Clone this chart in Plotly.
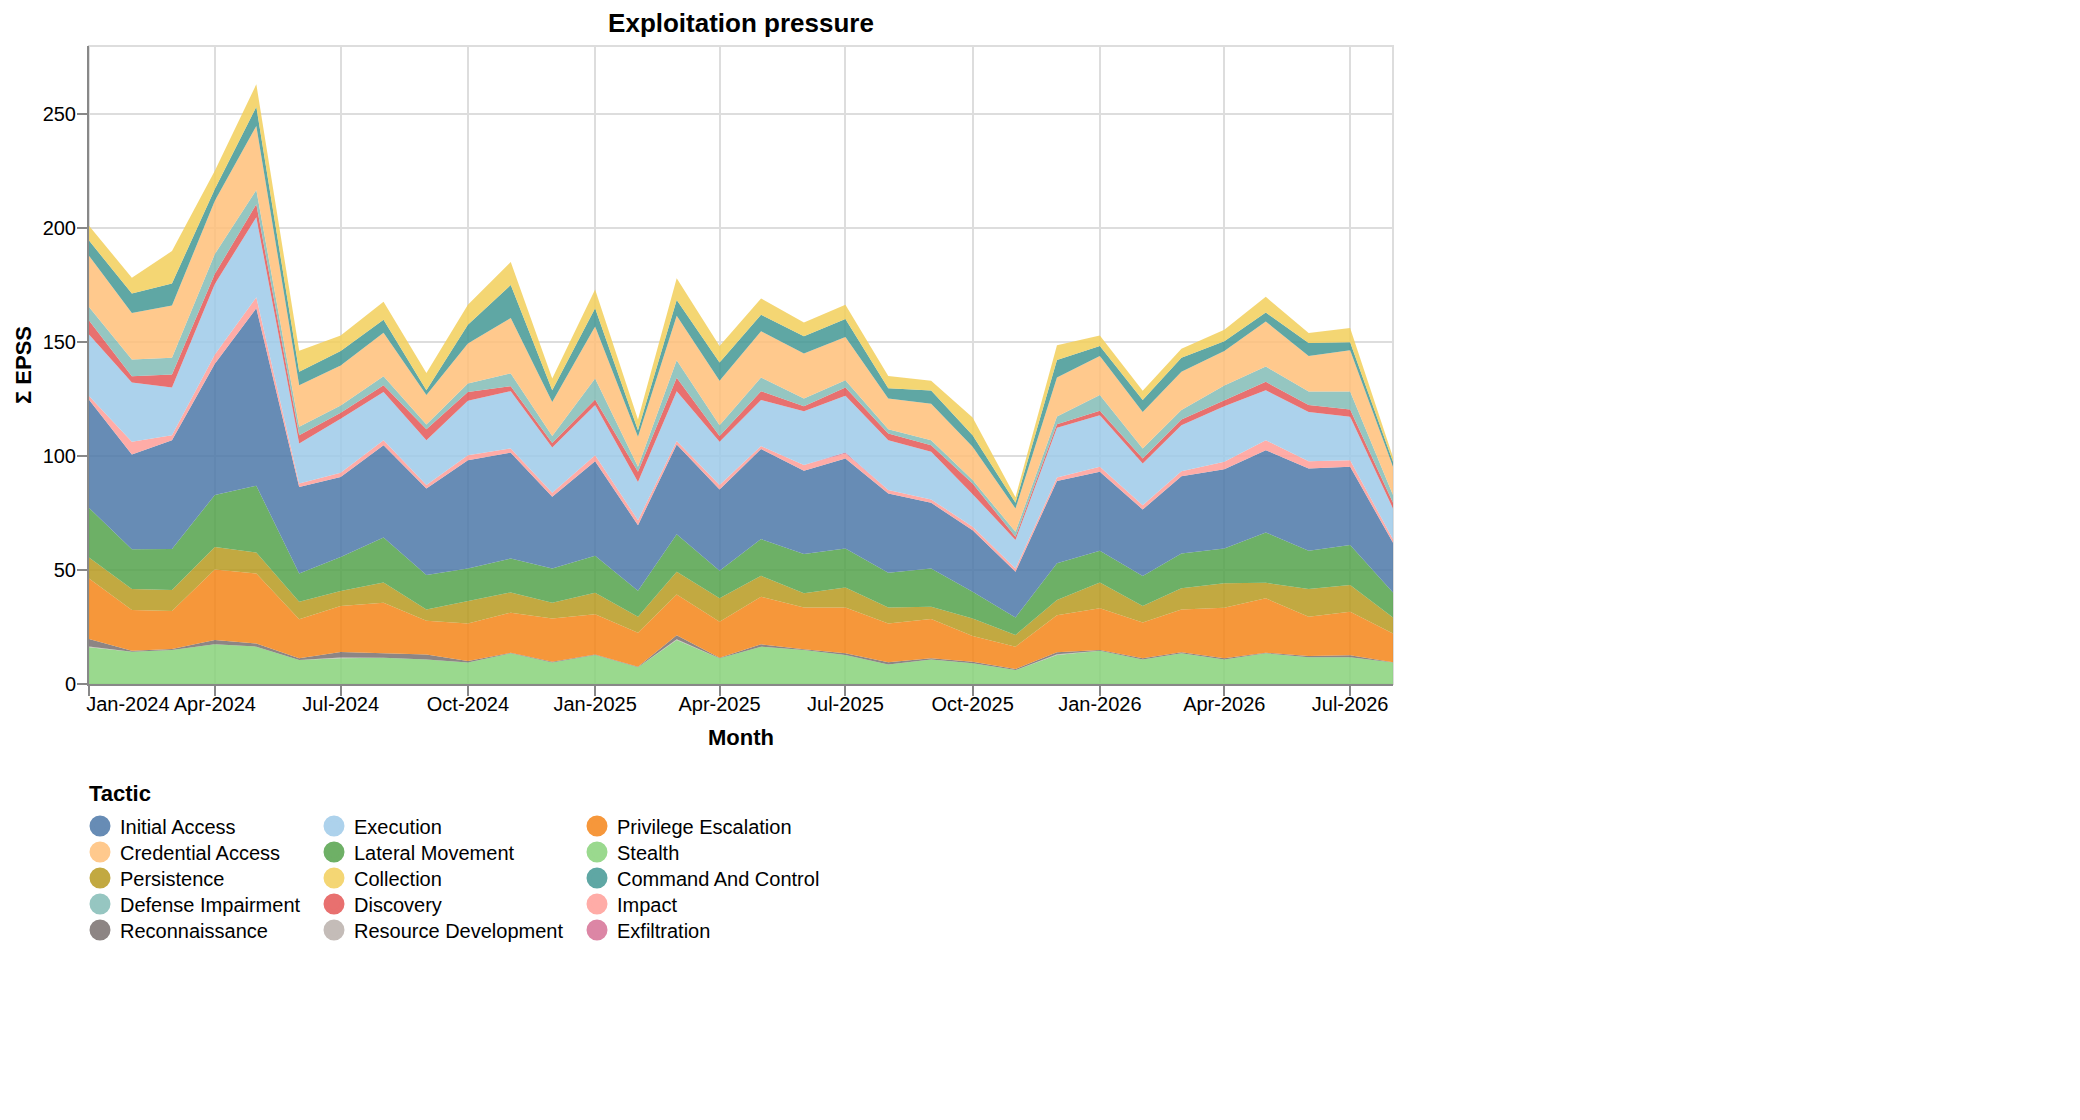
import plotly.graph_objects as go

months = [
    "2024-01-01", "2024-02-01", "2024-03-01", "2024-04-01", "2024-05-01", "2024-06-01",
    "2024-07-01", "2024-08-01", "2024-09-01", "2024-10-01", "2024-11-01", "2024-12-01",
    "2025-01-01", "2025-02-01", "2025-03-01", "2025-04-01", "2025-05-01", "2025-06-01",
    "2025-07-01", "2025-08-01", "2025-09-01", "2025-10-01", "2025-11-01", "2025-12-01",
    "2026-01-01", "2026-02-01", "2026-03-01", "2026-04-01", "2026-05-01", "2026-06-01",
    "2026-07-01", "2026-08-01",
]

# values per tactic, one per month (sum of EPSS)
stealth = [16.1, 14.2, 14.9, 17.4, 16.4, 10.5, 11.3, 11.5, 10.8, 9.4, 13.5, 9.4,
           12.7, 7.3, 19.3, 11.3, 16.4, 14.9, 12.7, 8.6, 10.8, 9.1, 6.1, 12.7,
           14.6, 10.8, 13.5, 10.8, 13.5, 11.7, 11.7, 9.4]
resource_dev = [0.4, 0, 0, 0, 0, 0, 0.3, 0, 0, 0, 0, 0,
                0, 0, 0.3, 0, 0, 0, 0, 0, 0, 0, 0, 0.4,
                0, 0, 0, 0, 0, 0, 0, 0]
recon = [3.2, 0.4, 0.5, 1.9, 1.4, 0.8, 2.4, 2.0, 2.2, 0.7, 0.2, 0.4,
         0.3, 0.3, 1.8, 0.2, 1.0, 0.3, 0.8, 0.9, 0.5, 0.7, 0.5, 0.8,
         0.3, 0.5, 0.4, 0.5, 0.2, 0.6, 0.9, 0.2]
priv_esc = [26.6, 17.9, 16.6, 31.0, 30.7, 17.1, 20.2, 22.2, 14.8, 16.5, 17.6, 19.0,
            17.6, 14.9, 17.9, 15.8, 20.9, 18.4, 20.1, 17.1, 17.2, 11.3, 9.8, 16.3,
            18.3, 15.7, 18.8, 22.2, 23.9, 17.2, 19.1, 12.6]
persistence = [9.2, 9.2, 9.2, 9.8, 9.2, 7.7, 6.6, 8.9, 4.9, 9.9, 8.9, 6.9,
               9.5, 7.0, 10.0, 10.3, 9.2, 6.2, 8.8, 7.0, 5.4, 7.7, 5.1, 6.7,
               11.4, 7.2, 9.3, 10.7, 6.8, 12.2, 11.7, 7.0]
lateral = [21.8, 17.4, 18.0, 22.9, 29.3, 12.4, 14.9, 19.7, 15.1, 14.2, 14.9, 15.0,
           16.2, 11.4, 16.4, 12.1, 16.1, 17.2, 17.1, 15.2, 16.8, 11.7, 7.7, 16.1,
           13.9, 13.2, 15.3, 15.3, 22.1, 16.8, 17.6, 11.0]
initial_access = [47.4, 41.6, 47.8, 57.5, 77.9, 38.0, 35.1, 40.5, 38.0, 47.5, 46.4, 31.5,
                  41.5, 28.8, 39.4, 35.7, 39.5, 36.6, 39.5, 34.8, 28.8, 27.0, 20.1, 36.1,
                  34.6, 29.2, 33.9, 34.7, 36.1, 36.1, 34.3, 21.8]
impact = [1.7, 5.6, 2.2, 4.1, 4.8, 1.5, 1.9, 2.2, 1.5, 2.2, 1.9, 1.7,
          2.6, 2.2, 1.5, 1.9, 1.3, 2.5, 2.2, 1.5, 1.5, 1.5, 1.4, 1.5,
          2.2, 1.9, 2.2, 3.3, 4.4, 3.2, 2.9, 1.5]
exfiltration = [0, 0, 0, 0, 0, 0, 0, 0, 0, 0, 0, 0,
                0, 0, 0, 0, 0, 0, 0.4, 0, 0, 0, 0, 0,
                0, 0, 0, 0, 0, 0, 0, 0]
execution = [27.0, 26.0, 20.9, 31.0, 35.1, 17.6, 23.7, 21.2, 19.7, 23.9, 25.1, 19.9,
             22.0, 16.8, 21.9, 19.0, 20.2, 23.6, 24.9, 21.9, 20.9, 14.3, 12.5, 21.9,
             22.7, 18.3, 20.2, 24.4, 21.9, 21.6, 19.1, 13.5]
discovery = [6.1, 2.8, 5.7, 4.4, 5.8, 3.6, 2.6, 2.9, 4.8, 3.9, 2.2, 2.0,
             2.5, 4.4, 5.9, 2.5, 3.9, 2.2, 3.6, 2.9, 2.9, 4.7, 1.4, 1.5,
             1.9, 2.2, 2.5, 2.7, 3.7, 3.0, 3.2, 2.5]
defense_imp = [5.9, 7.3, 7.4, 8.7, 6.2, 3.7, 3.2, 4.0, 2.1, 3.7, 5.6, 3.0,
               9.2, 2.2, 7.7, 4.8, 6.0, 3.4, 3.2, 1.9, 2.2, 1.5, 2.2, 3.4,
               6.9, 4.4, 4.1, 6.4, 6.7, 6.0, 7.9, 3.4]
credential = [22.5, 20.4, 22.9, 23.4, 28.1, 18.2, 17.6, 19.0, 12.9, 17.5, 24.3, 15.0,
              22.8, 13.2, 19.5, 19.5, 20.3, 19.8, 19.0, 13.5, 16.0, 14.6, 10.2, 17.1,
              17.1, 16.0, 16.8, 15.1, 19.8, 15.5, 18.1, 12.4]
c2 = [6.7, 8.6, 9.7, 5.1, 8.4, 5.9, 6.3, 5.8, 2.1, 8.3, 14.5, 5.1,
      8.0, 2.9, 6.9, 8.0, 7.2, 7.5, 7.9, 4.5, 5.8, 5.1, 2.5, 7.7,
      4.4, 5.2, 6.2, 4.3, 3.9, 5.8, 3.5, 2.2]
collection = [6.5, 6.9, 14.2, 8.0, 9.9, 9.2, 6.8, 7.9, 7.6, 8.7, 10.1, 5.2,
              8.2, 4.7, 9.6, 7.2, 7.2, 6.1, 6.2, 5.4, 4.3, 7.8, 2.5, 6.5,
              4.7, 4.1, 3.9, 5.1, 6.9, 4.3, 6.2, 2.0]

# stack order, bottom to top
stack_names = ["Stealth", "Resource Development", "Reconnaissance", "Privilege Escalation",
               "Persistence", "Lateral Movement", "Initial Access", "Impact", "Exfiltration",
               "Execution", "Discovery", "Defense Impairment", "Credential Access",
               "Command And Control", "Collection"]
stack_values = [stealth, resource_dev, recon, priv_esc, persistence, lateral, initial_access,
                impact, exfiltration, execution, discovery, defense_imp, credential, c2, collection]

# legend order (row by row, 3 columns)
legend_names = ["Initial Access", "Execution", "Privilege Escalation",
                "Credential Access", "Lateral Movement", "Stealth",
                "Persistence", "Collection", "Command And Control",
                "Defense Impairment", "Discovery", "Impact",
                "Reconnaissance", "Resource Development", "Exfiltration"]
palette = ["#4c78a8", "#9ecae9", "#f58518", "#ffbf79", "#54a24b", "#88d27a", "#b79a20",
           "#f2cf5b", "#439894", "#83bcb6", "#e45756", "#ff9d98", "#79706e", "#bab0ac", "#d67195"]
colors = dict(zip(legend_names, palette))

tick_dates = ["2024-01-01", "2024-04-01", "2024-07-01", "2024-10-01", "2025-01-01",
              "2025-04-01", "2025-07-01", "2025-10-01", "2026-01-01", "2026-04-01", "2026-07-01"]
tick_labels = ["Jan-2024", "Apr-2024", "Jul-2024", "Oct-2024", "Jan-2025",
               "Apr-2025", "Jul-2025", "Oct-2025", "Jan-2026", "Apr-2026", "Jul-2026"]

OPACITY = 0.85
FONT = "Liberation Sans, Arial, Helvetica, sans-serif"


def rgba(hex_color, a):
    h = hex_color.lstrip("#")
    r, g, b = int(h[0:2], 16), int(h[2:4], 16), int(h[4:6], 16)
    return "rgba(%d,%d,%d,%s)" % (r, g, b, a)


def on_white(hex_color, a):
    h = hex_color.lstrip("#")
    rgb = [int(h[i:i + 2], 16) for i in (0, 2, 4)]
    mixed = [round(c * a + 255 * (1 - a)) for c in rgb]
    return "#%02x%02x%02x" % tuple(mixed)


fig = go.Figure()

for name, vals in zip(stack_names, stack_values):
    fig.add_trace(go.Scatter(
        x=months, y=vals, name=name,
        stackgroup="one", mode="lines",
        line=dict(width=0, color=colors[name]),
        fillcolor=rgba(colors[name], OPACITY),
        showlegend=False,
        hovertemplate="%{x|%b-%Y}<br>" + name + ": %{y}<extra></extra>",
    ))

# pixel geometry of the plot area (figure is 2080 x 1120)
L, R, T, B = 81, 1385, 38, 676
W, H = R - L, B - T

col_x = [92, 326, 589]
row_y = [818, 844, 870, 896, 922]

legend_layout = {}
for i, name in enumerate(legend_names):
    lid = "legend" if i == 0 else "legend%d" % (i + 1)
    c = on_white(colors[name], OPACITY)
    fig.add_trace(go.Scatter(
        x=[None], y=[None], mode="markers", name=name,
        marker=dict(color=c, size=16, symbol="circle", line=dict(color=c, width=5)),
        legend=lid, showlegend=True, hoverinfo="skip",
    ))
    px = col_x[i % 3] - 20
    py = row_y[i // 3]
    legend_layout[lid] = dict(
        x=(px - L) / W, y=(B - py) / H,
        xanchor="left", yanchor="middle",
        bgcolor="rgba(0,0,0,0)", borderwidth=0,
        font=dict(family=FONT, size=20, color="#000"),
    )

# first label pushed right so it sits roughly flush with the left edge
tick_text = list(tick_labels)
tick_text[0] = "\u00a0" * 14 + tick_text[0]

fig.update_layout(
    width=2080, height=1120,
    margin=dict(l=L, r=2080 - R, t=T, b=1120 - B, autoexpand=False),
    paper_bgcolor="white", plot_bgcolor="white",
    font=dict(family=FONT, size=20, color="#000"),
    title=dict(text="Exploitation pressure", x=0.5, xref="paper", xanchor="center",
               y=1 - 15 / 1120, yref="container", yanchor="middle",
               font=dict(family=FONT, size=26, color="#000", weight="bold")),
    xaxis=dict(
        type="date", range=["2024-01-01", "2026-08-01"],
        tickvals=tick_dates, ticktext=tick_text, tickangle=0,
        showgrid=True, gridcolor="#dddddd", gridwidth=2,
        showline=True, linecolor="#888888", linewidth=2,
        ticks="outside", ticklen=10, tickwidth=2, tickcolor="#888888",
        ticklabelstandoff=-9, ticklabeloverflow="allow",
        tickfont=dict(family=FONT, size=20, color="#000"),
        title=dict(text="Month", standoff=16,
                   font=dict(family=FONT, size=22, color="#000", weight="bold")),
        zeroline=False,
    ),
    yaxis=dict(
        range=[0, 280], tickvals=[0, 50, 100, 150, 200, 250],
        showgrid=True, gridcolor="#dddddd", gridwidth=2,
        showline=True, linecolor="#888888", linewidth=2,
        ticks="outside", ticklen=10, tickwidth=2, tickcolor="#888888",
        ticklabelstandoff=-3,
        tickfont=dict(family=FONT, size=20, color="#000"),
        title=dict(text="Σ EPSS", standoff=5,
                   font=dict(family=FONT, size=22, color="#000", weight="bold")),
        zeroline=False,
    ),
    shapes=[dict(type="rect", xref="paper", yref="paper", x0=0, x1=1, y0=0, y1=1,
                 line=dict(color="#dddddd", width=2), layer="below")],
    annotations=[dict(text="Tactic", xref="paper", yref="paper",
                      x=-2 / W, y=(B - 785) / H, xanchor="left", yanchor="middle",
                      showarrow=False,
                      font=dict(family=FONT, size=22, color="#000", weight="bold"))],
    **legend_layout,
)

fig.write_html("out.html")
